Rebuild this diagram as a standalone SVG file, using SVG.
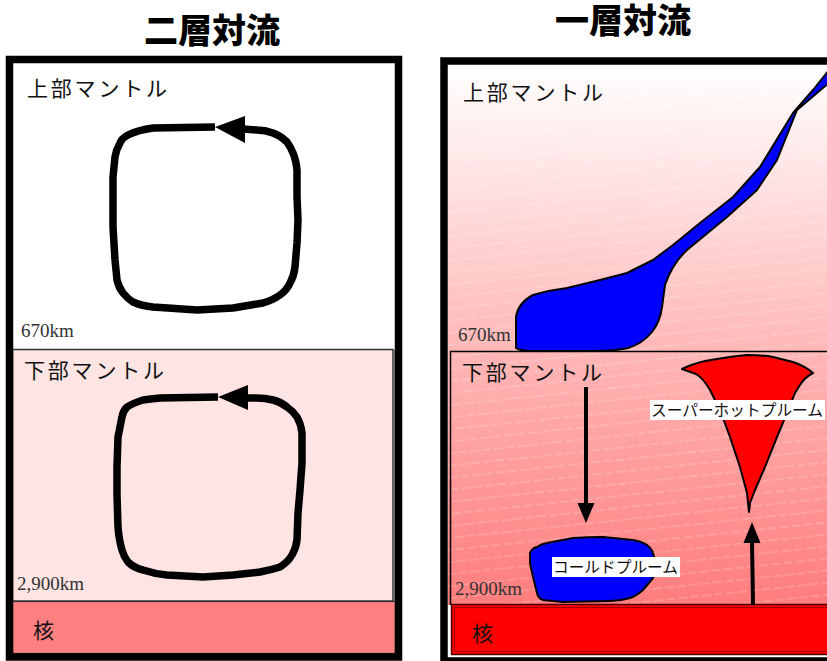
<svg xmlns="http://www.w3.org/2000/svg" width="827" height="661" viewBox="0 0 827 661">
  <style>
    .title { font-family: "Noto Sans CJK JP", "Noto Sans", sans-serif; font-weight: 900; font-size: 34px; fill: #000; text-anchor: middle; }
    .layer { font-family: "Noto Sans CJK JP", "Noto Sans", sans-serif; font-size: 21px; letter-spacing: 2.8px; fill: #111; }
    .depth { font-family: "Liberation Serif", "DejaVu Serif", serif; font-size: 19px; fill: #333; }
    .plume { font-family: "Noto Sans CJK JP", "Noto Sans", sans-serif; font-size: 15.5px; fill: #111; }
    .frame { fill: none; stroke: #000; stroke-width: 7.5; }
    .loop { fill: none; stroke: #000; stroke-width: 7.5; stroke-linejoin: round; stroke-linecap: butt; }
    .shape { stroke: #000; stroke-width: 2; stroke-linejoin: round; }
    .arrow { stroke: #000; stroke-width: 4; fill: none; }
  </style>
  <defs>
    <linearGradient id="mantleGrad" x1="0" y1="65" x2="0" y2="605" gradientUnits="userSpaceOnUse">
      <stop offset="0" stop-color="#ffffff"/>
      <stop offset="0.52" stop-color="#ffb8b8"/>
      <stop offset="1" stop-color="#ff7c7c"/>
    </linearGradient>
    <pattern id="streaks" width="240" height="12" patternUnits="userSpaceOnUse" patternTransform="rotate(-6)">
      <line x1="0" y1="6" x2="240" y2="6" stroke="#ffffff" stroke-opacity="0.4" stroke-width="0.8" stroke-dasharray="9 3"/>
    </pattern>
  </defs>

  <rect width="827" height="661" fill="#ffffff"/>

  <!-- two-layer convection panel -->
  <g id="two-layer">
    <text class="title" x="212" y="43">二層対流</text>
    <g id="left-upper-mantle">
      <rect x="13" y="63" width="382" height="286" fill="#ffffff"/>
      <text class="layer" x="27" y="96">上部マントル</text>
      <text class="depth" x="21" y="337">670km</text>
    </g>
    <g id="left-lower-mantle">
      <rect x="12.5" y="349.5" width="380.5" height="251.5" fill="#ffe4e4" stroke="#333" stroke-width="1.5"/>
      <line x1="394.5" y1="350" x2="394.5" y2="601" stroke="#888" stroke-width="1"/>
      <text class="layer" x="24" y="378">下部マントル</text>
      <text class="depth" x="17" y="590">2,900km</text>
    </g>
    <g id="left-core">
      <rect x="12.5" y="601.5" width="383" height="52" fill="#ff8080" stroke="#333" stroke-width="1.2"/>
      <text class="layer" x="33" y="638">核</text>
    </g>
    <rect class="frame" x="9.5" y="59.5" width="389" height="597.5"/>
  </g>

  <!-- one-layer convection panel -->
  <g id="one-layer">
    <text class="title" x="623" y="33">一層対流</text>
    <g id="right-mantle">
      <rect x="448" y="65" width="400" height="540" fill="url(#mantleGrad)"/>
      <rect x="448" y="65" width="400" height="540" fill="url(#streaks)"/>
      <line x1="450" y1="351.5" x2="840" y2="351.5" stroke="#000" stroke-width="1.5"/>
      <line x1="450.5" y1="351" x2="450.5" y2="605" stroke="#000" stroke-width="1.5"/>
      <text class="layer" x="463" y="100">上部マントル</text>
      <text class="depth" x="458" y="341">670km</text>
      <text class="layer" x="462" y="380">下部マントル</text>
      <text class="depth" x="455" y="595">2,900km</text>
    </g>
    <g id="slab">
      <path class="shape" fill="#0000ff" d="M516,348 L516,317 Q518,303 533,295 Q550,290 567,288 L600,280 L627,273 L653,260 L673,245 L700,223 L733,197 L760,167 L793,113 L813,90 L829,70 L830,82 L797,110 L777,160 L757,190 L727,217 L687,250 Q672,264 665,285 L662,307 Q660,322 652,332 Q642,344 628,348 Q615,351 595,351 L533,351 Q520,351 516,348 Z"/>
    </g>
    <g id="hot-plume">
      <path class="shape" fill="#ff0000" d="M682,369 Q692,364 705,361 L723,358 Q735,356 747,355 Q762,355 773,357 L793,362 Q805,366 813,373 Q805,377 800,385 L795,393 L787,413 L777,437 L765,467 L755,490 L750,503 L749,512 L747,493 L740,467 L730,437 L720,410 L710,390 Q703,378 696,374 Z"/>
      <rect x="650" y="400" width="175" height="20" fill="#ffffff"/>
      <text class="plume" x="651" y="416" textLength="172" lengthAdjust="spacingAndGlyphs">スーパーホットプルーム</text>
    </g>
    <g id="cold-plume">
      <path class="shape" fill="#0000ff" d="M530,553 Q532,548 537,547 Q541,544 547,543 L573,538 Q588,537 603,537 L633,540 Q643,542 647,545 Q652,549 653,553 L657,567 L653,578 L643,590 Q636,596 630,598 Q620,601 610,601 L563,602 L543,600 Q538,598 537,593 L533,577 L530,563 Z"/>
      <rect x="552" y="557" width="128" height="20" fill="#ffffff"/>
      <text class="plume" x="553" y="573" textLength="125" lengthAdjust="spacingAndGlyphs">コールドプルーム</text>
    </g>
    <g id="right-core">
      <rect x="451.5" y="604.5" width="400" height="50" fill="#ff0000" stroke="#4a0000" stroke-width="1.5"/>
      <rect x="454.5" y="607.5" width="400" height="44" fill="none" stroke="#8a0000" stroke-width="0.8"/>
      <text class="layer" x="472" y="641">核</text>
    </g>
    <rect class="frame" x="444" y="61" width="420" height="600"/>
  </g>

  <!-- flow connectors -->
  <g id="connectors">
    <path class="loop" d="M215,127 L153,128 Q138,130 128,135 Q121,139 120,143 Q116,150 115,157 L113,177 L113,227 L115,260 L117,280 Q119,288 123,293 Q128,299 133,302 Q142,306 153,307 L197,310 L233,308 L263,303 Q273,300 280,295 Q287,290 290,283 Q294,276 295,267 L297,243 L298,220 L297,197 L297,170 Q296,160 293,153 Q290,146 287,142 Q281,136 273,133 Q265,130 257,130 L243,129"/>
    <polygon points="215,127 245,116 245,143" fill="#000"/>
    <path class="loop" d="M218,397 L160,398 Q150,399 143,400 Q133,403 127,407 Q123,411 122,417 L118,437 L117,467 L117,495 L118,527 Q119,540 122,550 Q124,557 128,562 Q134,568 143,570 Q155,574 167,575 L203,577 L233,575 L260,572 Q271,570 280,567 Q288,562 292,555 Q296,548 297,540 L298,513 L300,490 L302,463 L302,433 Q301,424 297,417 Q293,411 287,407 Q281,402 273,400 Q265,398 257,398 L246,398"/>
    <polygon points="218,397 248,385 248,410" fill="#000"/>
    <line class="arrow" x1="586" y1="387" x2="586" y2="506"/>
    <polygon points="577.5,503 594.5,503 586,523" fill="#000"/>
    <line class="arrow" x1="753" y1="605" x2="752" y2="540"/>
    <polygon points="743.5,543 760.5,543 752,522" fill="#000"/>
  </g>
</svg>
